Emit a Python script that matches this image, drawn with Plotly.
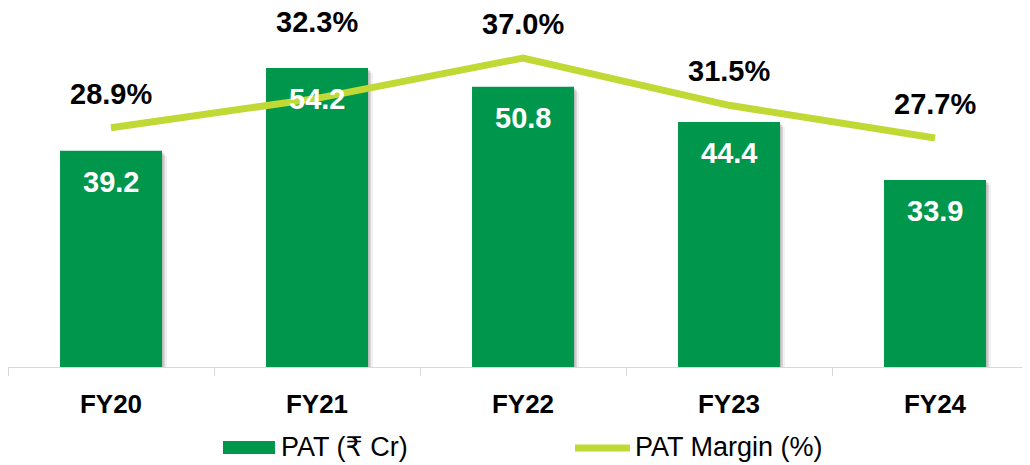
import plotly.graph_objects as go

categories = ["FY20", "FY21", "FY22", "FY23", "FY24"]
pat_values = [39.2, 54.2, 50.8, 44.4, 33.9]
margin_values = [28.9, 32.3, 37.0, 31.5, 27.7]
pat_labels = ["39.2", "54.2", "50.8", "44.4", "33.9"]
margin_labels = ["28.9%", "32.3%", "37.0%", "31.5%", "27.7%"]
margin_label_shift = [34, 76, 34, 34, 34]

BAR_COLOR = "#00964B"
LINE_COLOR = "#C0D934"
FONT = "Liberation Sans, Arial, DejaVu Sans, sans-serif"

# page has an 8px body margin; work in screen coordinates
OFF = 8
W, H = 1030 - OFF, 465 - OFF
PLOT_LEFT, PLOT_RIGHT, PLOT_TOP, PLOT_BOTTOM = 8, 1030, 8, 367
L = PLOT_LEFT - OFF
R = 0
T = PLOT_TOP - OFF
B = H - (PLOT_BOTTOM - OFF)
PW = PLOT_RIGHT - PLOT_LEFT
PH = PLOT_BOTTOM - PLOT_TOP
CAT_PX = 206
BAR_W = 0.495
Y_PX = 5.517


def px(x):
    return (x - PLOT_LEFT) / PW


def py(y):
    return (PLOT_BOTTOM - y) / PH


fig = go.Figure()
# soft shadows behind bars
for dpx, alpha in [(5, 0.06), (3, 0.10), (1.5, 0.12)]:
    fig.add_trace(go.Bar(
        x=categories, y=pat_values, base=-dpx / Y_PX,
        width=BAR_W, offset=-BAR_W / 2 + dpx / CAT_PX,
        marker=dict(color=f"rgba(0,0,0,{alpha})", line=dict(width=0)),
        yaxis="y", showlegend=False, hoverinfo="skip",
    ))
fig.add_trace(go.Bar(
    x=categories, y=pat_values, name="PAT (₹ Cr)",
    marker=dict(color=BAR_COLOR, line=dict(width=0)),
    width=BAR_W, offset=-BAR_W / 2, yaxis="y", showlegend=False,
))
fig.add_trace(go.Scatter(
    x=categories, y=margin_values, name="PAT Margin (%)",
    mode="lines", line=dict(color=LINE_COLOR, width=7),
    yaxis="y2", showlegend=False,
))

annotations = []
for c, v, t in zip(categories, pat_values, pat_labels):
    annotations.append(dict(
        x=c, y=v, xref="x", yref="y", text=t, showarrow=False,
        yanchor="middle", yshift=-31,
        font=dict(family=FONT, size=29, color="white", weight="bold"),
    ))
for c, v, t, s in zip(categories, margin_values, margin_labels, margin_label_shift):
    annotations.append(dict(
        x=c, y=v, xref="x", yref="y2", text=t, showarrow=False,
        yanchor="middle", yshift=s,
        font=dict(family=FONT, size=29, color="black", weight="bold"),
    ))

# legend
annotations.append(dict(
    x=px(279), y=py(447), xref="paper", yref="paper", text="PAT (₹ Cr)",
    showarrow=False, xanchor="left", yanchor="middle",
    font=dict(family=FONT, size=27, color="black"),
))
annotations.append(dict(
    x=px(633), y=py(447), xref="paper", yref="paper", text="PAT Margin (%)",
    showarrow=False, xanchor="left", yanchor="middle",
    font=dict(family=FONT, size=27, color="black"),
))
shapes = [
    dict(type="rect", xref="paper", yref="paper",
         x0=px(223), x1=px(275), y0=py(454), y1=py(441),
         fillcolor=BAR_COLOR, line=dict(width=0)),
    dict(type="line", xref="paper", yref="paper",
         x0=px(575), x1=px(630), y0=py(448), y1=py(448),
         line=dict(color=LINE_COLOR, width=7)),
]

fig.update_layout(
    width=W, height=H,
    margin=dict(l=L, r=R, t=T, b=B, pad=0),
    paper_bgcolor="white", plot_bgcolor="white",
    font=dict(family=FONT, color="black"),
    barmode="overlay",
    xaxis=dict(
        type="category", range=[-0.5, -0.5 + PW / CAT_PX],
        showline=True, linecolor="#D9D9D9", linewidth=1,
        ticks="outside", tickson="boundaries", ticklen=8, tickcolor="#D9D9D9",
        tickfont=dict(family=FONT, size=26, color="black", weight="bold"),
        ticklabelstandoff=14,
        showgrid=False, zeroline=False,
    ),
    yaxis=dict(range=[0, PH / Y_PX], visible=False, showgrid=False, zeroline=False),
    yaxis2=dict(range=[37.0 - (PLOT_BOTTOM - 58) / 8.6, 37.0 + (58 - PLOT_TOP) / 8.6],
                overlaying="y", visible=False, showgrid=False, zeroline=False),
    annotations=annotations,
    shapes=shapes,
    showlegend=False,
)

fig.write_html("out.html")
